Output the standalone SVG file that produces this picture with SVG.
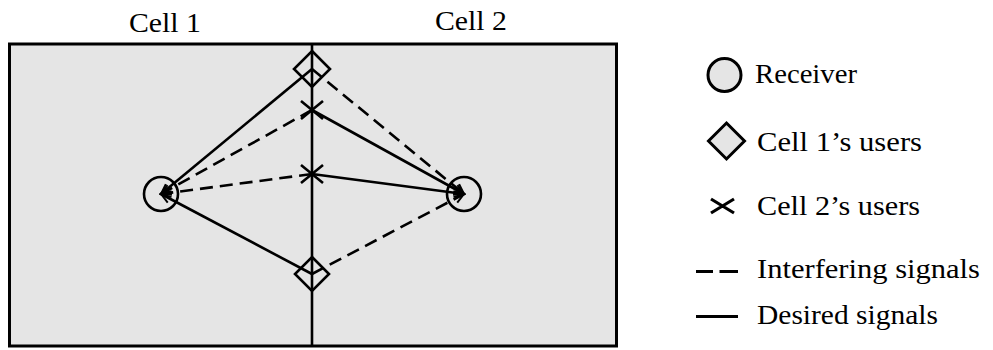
<svg xmlns="http://www.w3.org/2000/svg" width="993" height="350" viewBox="0 0 993 350">
<defs>
<style>
.t{font-family:'Liberation Serif','Times New Roman',serif;font-size:28px;fill:#000}
.sym{fill:none;stroke:#000;stroke-width:2.6}
.solid{fill:none;stroke:#000;stroke-width:2.6}
.dash{fill:none;stroke:#000;stroke-width:2.6;stroke-dasharray:13 7}
</style>
<marker id="ah" markerUnits="userSpaceOnUse" markerWidth="14" markerHeight="14" viewBox="-12 -7 14 14" refX="0" refY="0" orient="auto">
<path d="M-10,-4.5 L0,0 L-10,4.5" fill="none" stroke="#000" stroke-width="2"/>
</marker>
</defs>
<rect width="993" height="350" fill="#fff"/>
<g id="cells">
<rect x="9.5" y="44" width="607" height="302" fill="#e5e5e5" stroke="#000" stroke-width="3"/>
<line x1="312" y1="44" x2="312" y2="346" stroke="#000" stroke-width="2.6"/>
<text class="t" x="165" y="32" text-anchor="middle" textLength="72" lengthAdjust="spacingAndGlyphs">Cell 1</text>
<text class="t" x="471" y="30" text-anchor="middle" textLength="72" lengthAdjust="spacingAndGlyphs">Cell 2</text>
</g>
<g id="connectors">
<line class="solid" x1="312" y1="69" x2="161" y2="194" marker-end="url(#ah)"/>
<line class="solid" x1="312" y1="274" x2="161" y2="194" marker-end="url(#ah)"/>
<line class="dash" x1="312" y1="110" x2="161" y2="194" marker-end="url(#ah)"/>
<line class="dash" x1="312" y1="174" x2="161" y2="194" marker-end="url(#ah)"/>
<line class="solid" x1="312" y1="110" x2="464" y2="194" marker-end="url(#ah)"/>
<line class="solid" x1="312" y1="174" x2="464" y2="194" marker-end="url(#ah)"/>
<line class="dash" x1="312" y1="69" x2="464" y2="194" marker-end="url(#ah)"/>
<line class="dash" x1="312" y1="274" x2="464" y2="194" marker-end="url(#ah)"/>
</g>
<g id="receiver1"><circle class="sym" cx="161" cy="194" r="17"/></g>
<g id="receiver2"><circle class="sym" cx="464" cy="194" r="17"/></g>
<g id="user1a"><path class="sym" d="M312,51 L330,69 L312,87 L294,69 Z"/></g>
<g id="user1b"><path class="sym" d="M312,257 L329,274 L312,291 L295,274 Z"/></g>
<g id="user2a"><path class="sym" d="M301,101 L323,119 M301,119 L323,101"/></g>
<g id="user2b"><path class="sym" d="M301,165 L323,183 M301,183 L323,165"/></g>
<g id="legend">
<circle cx="724.5" cy="75" r="16.5" fill="#e5e5e5" stroke="#000" stroke-width="3"/>
<text class="t" x="755" y="83" textLength="102" lengthAdjust="spacingAndGlyphs">Receiver</text>
<path d="M726.5,123 L744.5,141 L726.5,159 L708.5,141 Z" fill="#e5e5e5" stroke="#000" stroke-width="3"/>
<text class="t" x="757" y="151" textLength="165" lengthAdjust="spacingAndGlyphs">Cell 1’s users</text>
<path d="M711,199 L734,213 M711,213 L734,199" fill="none" stroke="#000" stroke-width="3.2"/>
<text class="t" x="757" y="215" textLength="163" lengthAdjust="spacingAndGlyphs">Cell 2’s users</text>
<path d="M696,271.5 L713,271.5 M719.5,271.5 L738,271.5" fill="none" stroke="#000" stroke-width="3"/>
<text class="t" x="757" y="278" textLength="223" lengthAdjust="spacingAndGlyphs">Interfering signals</text>
<line x1="696" y1="316.5" x2="738" y2="316.5" stroke="#000" stroke-width="3"/>
<text class="t" x="757" y="324" textLength="181" lengthAdjust="spacingAndGlyphs">Desired signals</text>
</g>
</svg>
